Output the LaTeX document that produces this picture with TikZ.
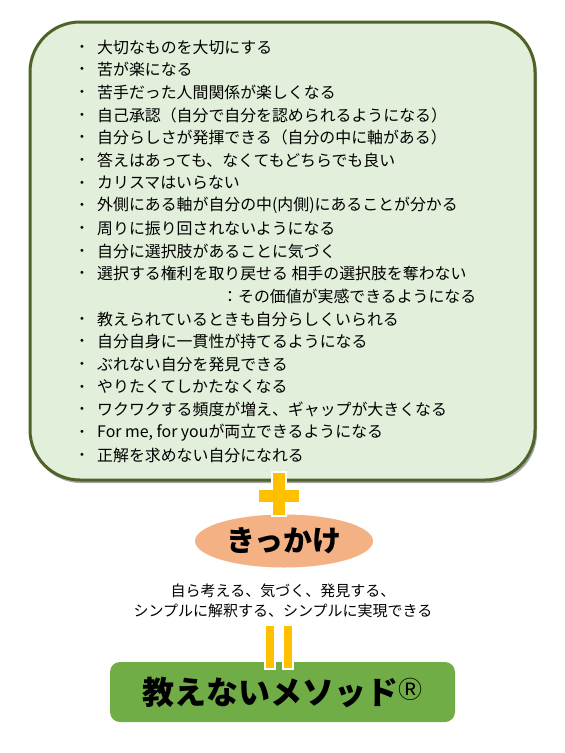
\documentclass[tikz,border=0pt]{standalone}
\usepackage{fontspec}
\newfontfamily\jp{Noto Sans CJK JP}
\usetikzlibrary{shapes.geometric}
\definecolor{boxgreen}{HTML}{E2EFDA}
\definecolor{edgegreen}{HTML}{4F6228}
\definecolor{plusyellow}{HTML}{FFC000}
\definecolor{keyorange}{HTML}{F4B183}
\definecolor{methodgreen}{HTML}{70AD47}
\tikzset{
  item/.style={anchor=west, inner sep=0pt, font=\jp\fontsize{15.9}{18}\selectfont},
  dot/.style={inner sep=0pt, font=\fontsize{11}{11}\selectfont},
  bar/.style={fill=plusyellow, draw=white, line width=2.5},
}
\begin{document}
\begin{tikzpicture}[x=1pt, y=-1pt]
\useasboundingbox (0,0) rectangle (565,753);
\def\bx{82} \def\tx{97} \def\ty{47} \def\dy{22.67}

% effects box
\fill[black!35, rounded corners=50] (31,24) rectangle (537,483);
\draw[edgegreen, line width=3, fill=boxgreen, rounded corners=50] (30,22) rectangle (535,480);
\foreach \t [count=\i from 0] in {大切なものを大切にする, 苦が楽になる, 苦手だった人間関係が楽しくなる,
  自己承認（自分で自分を認められるようになる）, 自分らしさが発揮できる（自分の中に軸がある）,
  答えはあっても、なくてもどちらでも良い, カリスマはいらない,
  外側にある軸が自分の中(内側)にあることが分かる, 周りに振り回されないようになる,
  自分に選択肢があることに気づく, 選択する権利を取り戻せる 相手の選択肢を奪わない} {
  \node[dot] (d\i) at (\bx, \ty+\i*\dy) {\textbullet};
  \node[item] (t\i) at (\tx, \ty+\i*\dy) {\t};
}
\node[item] (t11) at (222, \ty+11*\dy) {：その価値が実感できるようになる};
\foreach \t [count=\i from 12] in {教えられているときも自分らしくいられる, 自分自身に一貫性が持てるようになる,
  ぶれない自分を発見できる, やりたくてしかたなくなる, ワクワクする頻度が増え、ギャップが大きくなる,
  {For me, for youが両立できるようになる}, 正解を求めない自分になれる} {
  \node[dot] (d\i) at (\bx, \ty+\i*\dy) {\textbullet};
  \node[item] (t\i) at (\tx, \ty+\i*\dy) {\t};
}

% trigger
\node[ellipse, fill=keyorange, minimum width=178, minimum height=53, inner sep=0,
  font=\jp\bfseries\fontsize{29}{29}\selectfont] (trigger) at (284,541) {きっかけ};
\path[bar] (272,472) -- (286,472) -- (286,489) -- (300,489) -- (300,503) -- (286,503)
  -- (286,516) -- (272,516) -- (272,503) -- (258,503) -- (258,489) -- (272,489) -- cycle;
\node[align=center, inner sep=0, font=\jp\fontsize{15}{20}\selectfont] (hint) at (283,601)
  {自ら考える、気づく、発見する、\\シンプルに解釈する、シンプルに実現できる};

% method
\node[fill=methodgreen, rounded corners=10, minimum width=345, minimum height=60, inner sep=0,
  font=\jp\bfseries\fontsize{32}{32}\selectfont] (method) at (282.5,692)
  {教えないメソッド\raisebox{6pt}{\mdseries\fontsize{24}{24}\selectfont Ⓡ}};
\path[bar] (265,625) rectangle (275,669);
\path[bar] (283,625) rectangle (293,669);
\end{tikzpicture}
\end{document}
